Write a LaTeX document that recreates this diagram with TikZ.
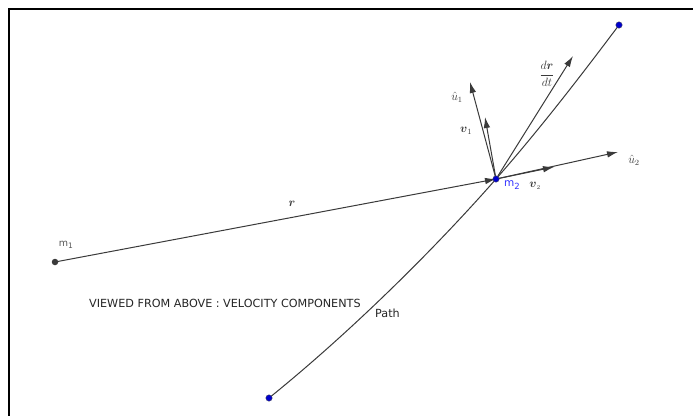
\documentclass[tikz,border=0pt]{standalone}
\usepackage{amsmath}
\usepackage{fontspec}
\setmainfont{DejaVu Sans}
\usetikzlibrary{arrows.meta}
\definecolor{ln}{HTML}{3A3A3A}
\definecolor{dotblue}{HTML}{0000CC}
\definecolor{lblue}{HTML}{3333FF}
\tikzset{
  line/.style={draw=ln, line width=1pt},
  vec/.style={line, -{Latex[length=11pt,width=6.5pt]}},
  dotg/.style={circle, fill=ln, inner sep=0pt, minimum size=6.5pt},
  dotb/.style={circle, fill=dotblue, draw=black!70, line width=0.3pt, inner sep=0pt, minimum size=6.5pt},
  mlabel/.style={text=ln, inner sep=0pt, font=\fontsize{11.5}{13}\selectfont},
  tlabel/.style={text=black!85, inner sep=0pt, font=\fontsize{11.2}{13}\selectfont},
}
\begin{document}
\begin{tikzpicture}[x=1pt,y=-1pt]
\useasboundingbox (0,0) rectangle (693,416);
\fill[white] (0,0) rectangle (693,416);
% frame (top and left edges)
\coordinate (fa) at (693,9);
\coordinate (fb) at (9,9);
\coordinate (fc) at (9,416);
\draw[black, line width=2pt] (fa) -- (fb) -- (fc);
% points
\coordinate (m1) at (55,262);
\coordinate (m2) at (496,179);
\coordinate (pt) at (619,25);
\coordinate (pb) at (269,398);
\coordinate (u1) at (470,82);
\coordinate (u2) at (618,152);
\coordinate (v1) at (485,117);
\coordinate (v2) at (554,167);
\coordinate (dr) at (573,56);
% control points of the path
\coordinate (c1) at (347,335);
\coordinate (c2) at (430,254);
\coordinate (c3) at (539,130);
\coordinate (c4) at (580,77);
% path curve
\draw[line] (pb) .. controls (c1) and (c2) .. (m2) .. controls (c3) and (c4) .. (pt);
% position vector
\draw[vec] (m1) -- (m2);
% unit vectors and components
\draw[vec] (m2) -- (u1);
\draw[vec] (m2) -- (u2);
\draw[vec] (m2) -- (v1);
\draw[vec] (m2) -- (v2);
\draw[vec] (m2) -- (dr);
% dots
\node[dotg] (d1) at (m1) {};
\node[dotb] (d2) at (m2) {};
\node[dotb] (d3) at (pt) {};
\node[dotb] (d4) at (pb) {};
% labels
\node[text=ln!85, inner sep=0pt, font=\fontsize{9.5}{10}\selectfont] (lm1) at (66,245) {m\raisebox{-0.45ex}{\fontsize{7.5}{8}\selectfont 1}};
\node[text=lblue, inner sep=0pt, font=\fontsize{10.5}{11}\selectfont] (lm2) at (512,185) {m\raisebox{-0.45ex}{\fontsize{8.5}{9}\selectfont 2}};
\node[mlabel] (lr) at (292,204) {$\boldsymbol{r}$};
\node[mlabel] (lu1) at (457,97) {$\hat{u}_1$};
\node[mlabel] (lu2) at (634,160) {$\hat{u}_2$};
\node[mlabel] (lv1) at (466,131) {$\boldsymbol{v}_1$};
\node[mlabel] (lv2) at (535,186) {$\boldsymbol{v}_{\scriptscriptstyle 2}$};
\node[mlabel] (ldr) at (547,74) {$\dfrac{d\boldsymbol{r}}{dt}$};
\node[tlabel, anchor=west] (title) at (89,303) {VIEWED FROM ABOVE : VELOCITY COMPONENTS};
\node[tlabel, anchor=west] (path) at (375,313) {Path};
\end{tikzpicture}
\end{document}
